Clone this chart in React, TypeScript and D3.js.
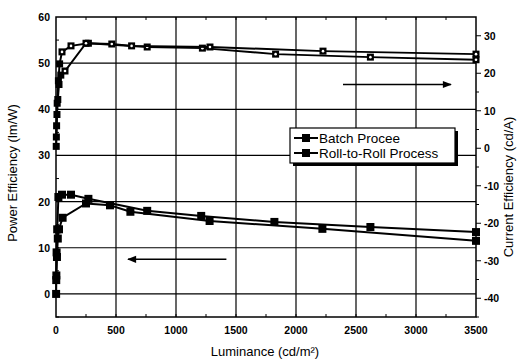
import React, { useEffect, useRef } from 'react'
import * as d3 from 'd3'

// luminance (cd/m2) and efficiencies
const peBatchL = [2, 5, 10, 20, 50, 125, 270, 760, 1210, 1820, 2620, 3500]
const peBatch = [3, 9, 14, 21, 21.5, 21.5, 20.6, 18, 16.9, 15.6, 14.5, 13.4]
const peRollL = [1, 3, 8, 15, 25, 55, 250, 450, 620, 1280, 2220, 3500]
const peRoll = [0, 4, 8, 12, 14, 16.5, 19.6, 19.2, 17.8, 15.8, 14.1, 11.5]

const ceBatchL = [2, 5, 10, 20, 30, 50, 125, 270, 760, 1220, 1830, 2620, 3500]
const ceBatch = [0.5, 6, 12, 18, 22.5, 25.7, 27.3, 28, 27, 26.7, 25.1, 24.3, 23.6]
const ceRollL = [3, 8, 15, 25, 40, 75, 250, 465, 630, 1283, 2225, 3500]
const ceRoll = [3, 9, 13, 17, 19.5, 20.6, 28, 27.8, 27.3, 27, 25.9, 25.1]

const xTicks = [0, 500, 1000, 1500, 2000, 2500, 3000, 3500]
const leftTicks = [0, 10, 20, 30, 40, 50, 60]
const rightTicks = [-40, -30, -20, -10, 0, 10, 20, 30]
const legendLabels = ['Batch Procee', 'Roll-to-Roll Process']

const W = 518
const H = 362
const m = { left: 56, top: 17, right: 42, bottom: 45 }

const draw = (el: SVGSVGElement) => {
    const svg = d3.select(el)
    svg.selectAll('*').remove()
    const iw = W - m.left - m.right
    const ih = H - m.top - m.bottom

    const x = d3.scaleLinear().domain([0, 3500]).range([m.left, m.left + iw])
    const yL = d3.scaleLinear().domain([-5, 60]).range([m.top + ih, m.top])
    const yR = d3.scaleLinear().domain([-45, 35]).range([m.top + ih, m.top])

    const font = 'Liberation Sans, Arial, sans-serif'

    // arrow head
    svg.append('defs')
        .append('marker')
        .attr('id', 'ah')
        .attr('viewBox', '0 0 10 10')
        .attr('refX', 9)
        .attr('refY', 5)
        .attr('markerWidth', 9)
        .attr('markerHeight', 6)
        .attr('orient', 'auto')
        .append('path')
        .attr('d', 'M0,1 L10,5 L0,9 Z')
        .attr('fill', '#000')

    // grid
    const grid = svg.append('g').attr('stroke', '#000').attr('stroke-width', 1.2)
    grid.selectAll('line.v')
        .data(xTicks.slice(1, -1))
        .join('line')
        .attr('x1', d => x(d))
        .attr('x2', d => x(d))
        .attr('y1', m.top)
        .attr('y2', m.top + ih)
    grid.selectAll('line.h')
        .data(leftTicks.slice(0, -1))
        .join('line')
        .attr('class', 'h')
        .attr('x1', m.left)
        .attr('x2', m.left + iw)
        .attr('y1', d => yL(d))
        .attr('y2', d => yL(d))

    // minor ticks
    const minorX = d3.range(250, 3500, 250)
    const tk = svg.append('g').attr('stroke', '#000').attr('stroke-width', 1)
    minorX.forEach(v => {
        tk.append('line').attr('x1', x(v)).attr('x2', x(v)).attr('y1', m.top).attr('y2', m.top + 3)
        tk.append('line').attr('x1', x(v)).attr('x2', x(v)).attr('y1', m.top + ih).attr('y2', m.top + ih - 3)
    })
    d3.range(-5, 60, 5).forEach(v => {
        tk.append('line').attr('x1', m.left).attr('x2', m.left + 3).attr('y1', yL(v)).attr('y2', yL(v))
    })
    d3.range(-45, 35, 5).forEach(v => {
        const len = v % 10 === 0 ? 5 : 3
        tk.append('line').attr('x1', m.left + iw).attr('x2', m.left + iw + len).attr('y1', yR(v)).attr('y2', yR(v))
    })

    // frame
    svg.append('rect')
        .attr('x', m.left)
        .attr('y', m.top)
        .attr('width', iw)
        .attr('height', ih)
        .attr('fill', 'none')
        .attr('stroke', '#000')
        .attr('stroke-width', 1.5)

    // tick labels
    const tickFont = (g: any) => g.attr('font-family', font).attr('font-size', 10.5).attr('font-weight', 'bold')
    svg.append('g').call(tickFont)
        .selectAll('text')
        .data(xTicks)
        .join('text')
        .attr('x', d => x(d))
        .attr('y', m.top + ih + 17)
        .attr('text-anchor', 'middle')
        .text(d => d)
    svg.append('g').call(tickFont)
        .selectAll('text')
        .data(leftTicks)
        .join('text')
        .attr('x', m.left - 6)
        .attr('y', d => yL(d) + 4)
        .attr('text-anchor', 'end')
        .text(d => d)
    svg.append('g').call(tickFont)
        .selectAll('text')
        .data(rightTicks)
        .join('text')
        .attr('x', m.left + iw + 8)
        .attr('y', d => yR(d) + 4)
        .attr('text-anchor', 'start')
        .text(d => d)

    // axis titles
    svg.append('text')
        .attr('transform', `translate(17,${m.top + ih / 2 + 6}) rotate(-90)`)
        .attr('text-anchor', 'middle')
        .attr('font-family', font)
        .attr('font-size', 13)
        .text('Power Efficiency (lm/W)')
    svg.append('text')
        .attr('transform', `translate(513,${m.top + ih / 2 + 20}) rotate(-90)`)
        .attr('text-anchor', 'middle')
        .attr('font-family', font)
        .attr('font-size', 13)
        .text('Current Efficiency (cd/A)')
    svg.append('text')
        .attr('x', 265)
        .attr('y', 356)
        .attr('text-anchor', 'middle')
        .attr('font-family', font)
        .attr('font-size', 13)
        .text('Luminance (cd/m²)')

    // series
    const series = [
        { L: peBatchL, v: peBatch, y: yL, size: 8, hollow: false },
        { L: peRollL, v: peRoll, y: yL, size: 8, hollow: false },
        { L: ceBatchL, v: ceBatch, y: yR, size: 7, hollow: true },
        { L: ceRollL, v: ceRoll, y: yR, size: 7, hollow: true }
    ]
    series.forEach(s => {
        const pts = s.L.map((l, i) => [x(l), s.y(s.v[i])] as [number, number])
        svg.append('path')
            .attr('d', d3.line()(pts))
            .attr('fill', 'none')
            .attr('stroke', '#000')
            .attr('stroke-width', 2)
        const g = svg.append('g')
        g.selectAll('rect')
            .data(pts)
            .join('rect')
            .attr('x', d => d[0] - s.size / 2)
            .attr('y', d => d[1] - s.size / 2)
            .attr('width', s.size)
            .attr('height', s.size)
            .attr('fill', '#000')
        if (s.hollow) {
            g.selectAll('circle')
                .data(pts.filter(d => d[0] > x(40)))
                .join('circle')
                .attr('cx', d => d[0])
                .attr('cy', d => d[1])
                .attr('r', 1.3)
                .attr('fill', '#fff')
        }
    })

    // arrows
    svg.append('line')
        .attr('x1', 343).attr('x2', 451)
        .attr('y1', yR(17)).attr('y2', yR(17))
        .attr('stroke', '#000').attr('stroke-width', 1.5)
        .attr('marker-end', 'url(#ah)')
    svg.append('line')
        .attr('x1', x(1420)).attr('x2', x(600))
        .attr('y1', yL(7.5)).attr('y2', yL(7.5))
        .attr('stroke', '#000').attr('stroke-width', 1.5)
        .attr('marker-end', 'url(#ah)')

    // legend
    const lg = svg.append('g').attr('transform', 'translate(290,128)')
    lg.append('rect').attr('x', 3).attr('y', 3).attr('width', 165).attr('height', 35).attr('fill', '#000')
    lg.append('rect').attr('width', 165).attr('height', 35).attr('fill', '#fff').attr('stroke', '#000').attr('stroke-width', 1.2)
    legendLabels.forEach((lab, i) => {
        const yy = 10 + i * 15
        lg.append('line').attr('x1', 4).attr('x2', 28).attr('y1', yy).attr('y2', yy).attr('stroke', '#000').attr('stroke-width', 2)
        lg.append('rect').attr('x', 12).attr('y', yy - 4).attr('width', 8).attr('height', 8).attr('fill', '#000')
        lg.append('text')
            .attr('x', 29)
            .attr('y', yy + 5)
            .attr('font-family', font)
            .attr('font-size', 13.5)
            .text(lab)
    })
}

export default function App() {
    const ref = useRef<SVGSVGElement>(null)
    useEffect(() => {
        if (ref.current) draw(ref.current)
    }, [])
    return (
        <svg
            ref={ref}
            width={W}
            height={H}
            style={{ position: 'absolute', left: 0, top: 0, background: '#fff' }}
        />
    )
}
